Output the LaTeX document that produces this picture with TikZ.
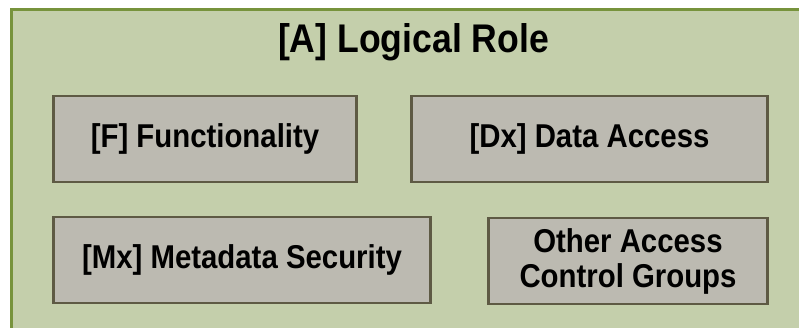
\documentclass[tikz,border=0pt]{standalone}
\usepackage{fontspec}
\setmainfont[FakeStretch=0.89]{Liberation Sans}
\definecolor{outerfill}{HTML}{C4CFAB}
\definecolor{outerline}{HTML}{77933C}
\definecolor{boxfill}{HTML}{BCBAB1}
\definecolor{boxline}{HTML}{5E5A44}
\tikzset{
  container/.style={draw=outerline, fill=outerfill, line width=3pt, rectangle, inner sep=0pt},
  groupbox/.style={draw=boxline, fill=boxfill, line width=2.5pt, rectangle, inner sep=0pt,
    minimum height=86pt, align=center, font=\bfseries\fontsize{33}{35}\selectfont},
  titletext/.style={inner sep=0pt, font=\bfseries\fontsize{40}{40}\selectfont}
}
\begin{document}
\begin{tikzpicture}[x=1pt,y=-1pt]
\useasboundingbox (0,0) rectangle (799,328);
\clip (0,0) rectangle (799,328);
\node[container, minimum width=810pt, minimum height=340pt, anchor=north west] (role) at (9.5,8.5) {};
\node[titletext, anchor=base] (title) at (413.5,53) {[A] Logical Role};
\node[groupbox, minimum width=303pt] (func) at (205,139) {[F] Functionality};
\node[groupbox, minimum width=356pt] (data) at (589.5,139) {[Dx] Data Access};
\node[groupbox, minimum width=377pt] (meta) at (242,260) {[Mx] Metadata Security};
\node[groupbox, minimum width=279pt] (other) at (628,261) {Other Access\\Control Groups};
\end{tikzpicture}
\end{document}
